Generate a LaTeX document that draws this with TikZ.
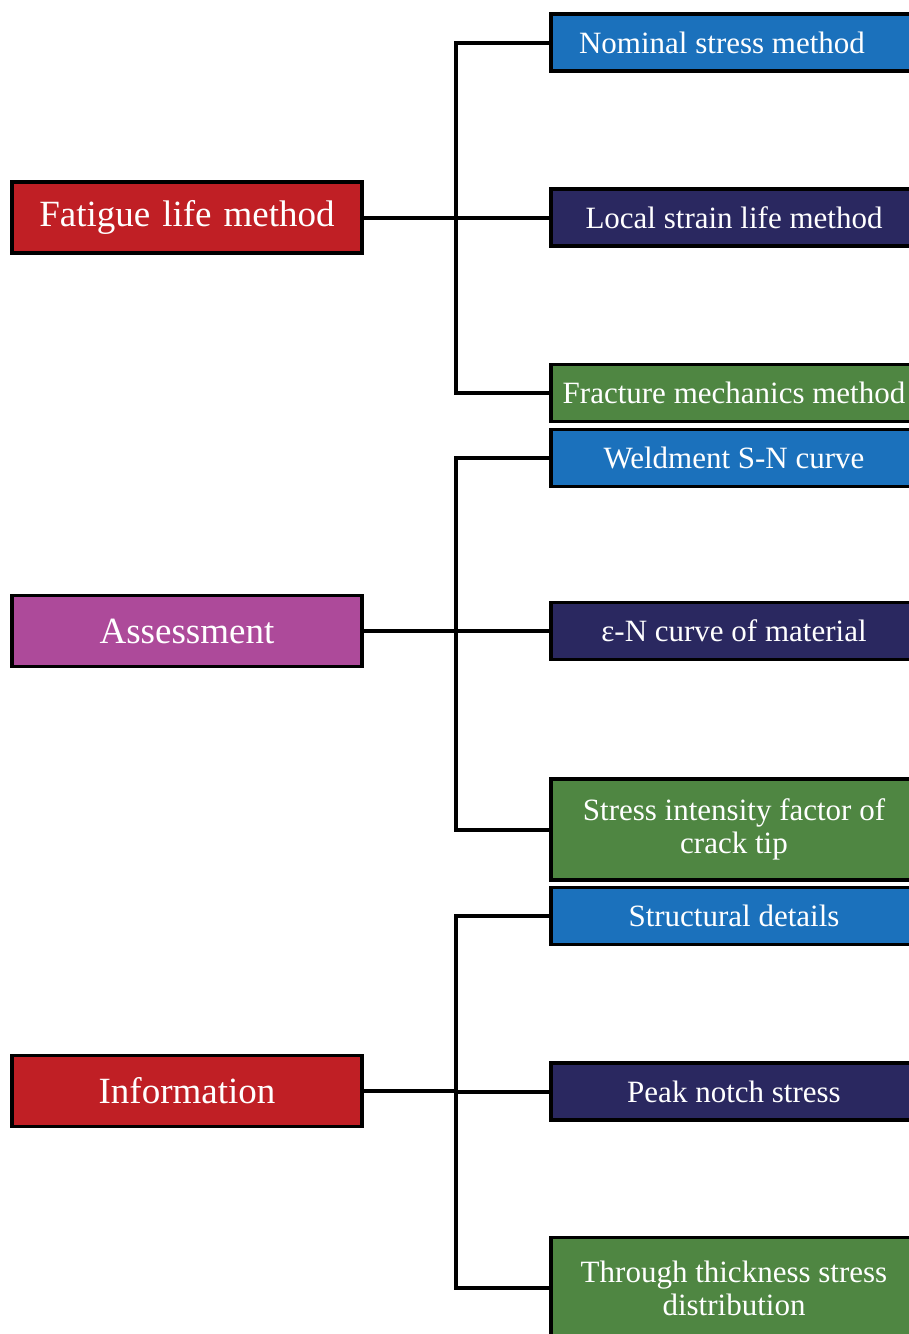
\documentclass[tikz,border=0pt]{standalone}
\usepackage{fontspec}
\setmainfont{Liberation Serif}
\definecolor{cred}{RGB}{192,31,37}
\definecolor{cblue}{RGB}{27,113,188}
\definecolor{cnavy}{RGB}{42,40,96}
\definecolor{cgreen}{RGB}{79,134,66}
\definecolor{cmag}{RGB}{173,74,154}
\newcommand{\myleftfont}{\fontsize{37}{39}\selectfont\spaceskip=12pt\relax}
\tikzset{
  leftbox/.style={draw=black, line width=3.5pt, minimum width=350pt, minimum height=71pt, inner sep=0pt, text=white, font=\myleftfont, anchor=center},
  rightbox/.style={draw=black, line width=3.5pt, minimum width=366pt, minimum height=57pt, inner sep=0pt, text=white, align=center, font=\fontsize{31}{33}\selectfont, anchor=center},
  tallbox/.style={rightbox, minimum height=101pt},
  link/.style={line width=4pt, line cap=rect}
}
\begin{document}
\begin{tikzpicture}[x=1pt,y=-1pt]
\clip (0,0) rectangle (909,1334);
\fill[white] (0,0) rectangle (909,1334);
% left boxes
\node[leftbox, fill=cred] (F) at (187,217.5) {Fatigue life method};
\node[leftbox, fill=cmag] (A) at (187,631) {Assessment};
\node[leftbox, fill=cred] (I) at (187,1091) {Information};
% right boxes group 1
\node[rightbox, fill=cblue] (N) at (734,42.5) {Nominal stress method\hspace*{24pt}};
\node[rightbox, fill=cnavy] (L) at (734,217.5) {Local strain life method};
\node[rightbox, fill=cgreen] (R) at (734,393) {Fracture mechanics method};
% group 2
\node[rightbox, fill=cblue] (W) at (734,458) {Weldment S-N curve};
\node[rightbox, fill=cnavy] (E) at (734,631) {ε-N curve of material};
\node[tallbox, fill=cgreen] (S) at (734,829.5) {Stress intensity factor of\\crack tip};
% group 3
\node[rightbox, fill=cblue] (D) at (734,916) {Structural details};
\node[rightbox, fill=cnavy] (P) at (734,1091.5) {Peak notch stress};
\node[tallbox, fill=cgreen] (T) at (734,1288) {Through thickness stress\\distribution};
% trunks
\coordinate (t1) at (456,217.5);
\coordinate (t2) at (456,631);
\coordinate (t3) at (456,1091);
% connectors
\draw[link] (F.east) -- (L.west);
\draw[link] (t1) |- (N.west);
\draw[link] (t1) |- (R.west);
\draw[link] (A.east) -- (E.west);
\draw[link] (t2) |- (W.west);
\draw[link] (t2) |- (S.west);
\draw[link] (I.east) -- (t3) |- (P.west);
\draw[link] (t3) |- (D.west);
\draw[link] (t3) |- (T.west);
\end{tikzpicture}
\end{document}
